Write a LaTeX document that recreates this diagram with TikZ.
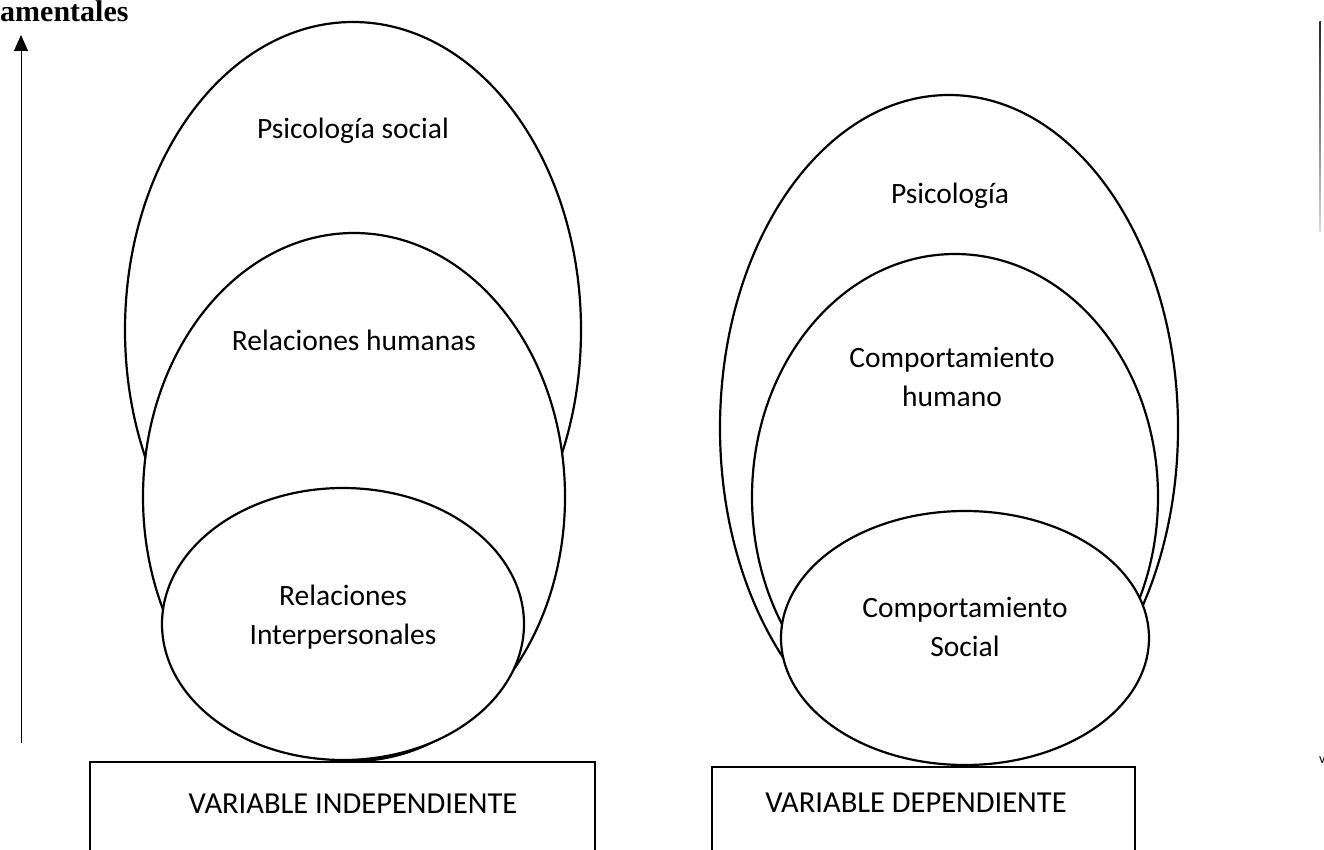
\documentclass[tikz,border=0pt]{standalone}
\usepackage{fontspec}
\setmainfont{Carlito}
\newfontfamily\titlefont{Liberation Serif}
\usetikzlibrary{shapes.geometric,arrows.meta}
\begin{document}
\begin{tikzpicture}[x=1pt,y=-1pt,
  oval/.style={ellipse,draw=black,fill=white,line width=2.2pt,inner sep=0pt},
  lbl/.style={font=\fontsize{29.5}{39}\selectfont,align=center,inner sep=0pt},
  varbox/.style={rectangle,draw=black,line width=2.6pt,inner sep=0pt}]
\useasboundingbox (0,0) rectangle (1324,850);
\clip (0,0) rectangle (1324,850);
% title
\node[anchor=base west,inner sep=0pt,font=\titlefont\bfseries\fontsize{30}{34}\selectfont] (title) at (0,22) {amentales};
% left arrow
\coordinate (a0) at (21,743);
\coordinate (a1) at (21,35);
\draw[line width=1pt,-{Triangle[length=16pt,width=14pt]}] (a0) -- (a1);
% right faded line
\shade[top color=black!85,bottom color=black!15] (1319.3,22) rectangle (1320.8,232);
\node[anchor=west,inner sep=0pt,font=\fontsize{14}{16}\selectfont] (vmark) at (1319,760) {v};
% left ellipses
\node[oval,minimum width=456pt,minimum height=616pt] (e1) at (353,330) {};
\node[oval,minimum width=422pt,minimum height=528pt] (e2) at (354,497) {};
\node[oval,minimum width=362pt,minimum height=272pt] (e3) at (343,624) {};
% right ellipses
\node[oval,minimum width=458pt,minimum height=666pt] (e4) at (949,428) {};
\node[oval,minimum width=406pt,minimum height=486pt] (e5) at (955,497) {};
\node[oval,minimum width=368pt,minimum height=254pt] (e6) at (965,638) {};
% labels
\node[lbl] (t1) at (353,131) {Psicología social};
\node[lbl] (t2) at (354,340) {Relaciones humanas};
\node[lbl] (t3) at (343,617) {Relaciones\\Interpersonales};
\node[lbl] (t4) at (950,196) {Psicología};
\node[lbl] (t5) at (952,377) {Comportamiento\\humano};
\node[lbl] (t6) at (965,627) {Comportamiento\\Social};
% boxes
\node[varbox,minimum width=505pt,minimum height=140pt] (b1) at (342.5,832) {};
\node[varbox,minimum width=423pt,minimum height=140pt] (b2) at (923.5,837) {};
\node[lbl,font=\fontsize{30.5}{39}\selectfont] (bt1) at (353,804) {VARIABLE INDEPENDIENTE};
\node[lbl,font=\fontsize{30.5}{39}\selectfont] (bt2) at (916,803) {VARIABLE DEPENDIENTE};
\end{tikzpicture}
\end{document}
